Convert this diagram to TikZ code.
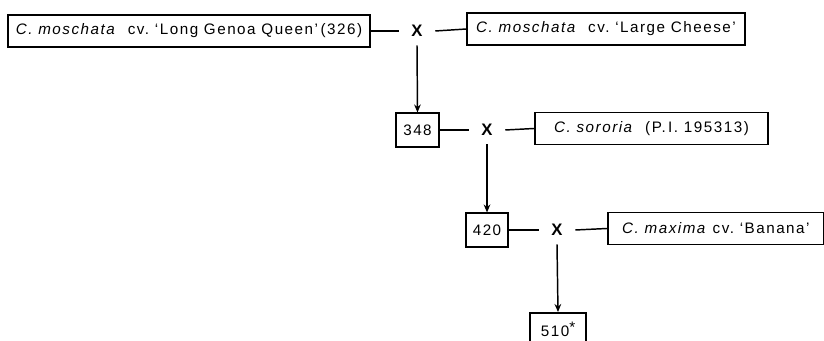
\documentclass[tikz,border=0pt]{standalone}
\usepackage{fontspec}
\setmainfont[LetterSpace=10]{Liberation Sans}
\usetikzlibrary{arrows.meta}
\tikzset{
  parent/.style = {draw, line width=1.3pt, inner xsep=3pt, inner ysep=0pt,
                   minimum height=24pt, font=\fontsize{11.4}{14}\selectfont},
  cross/.style  = {inner sep=0pt, minimum width=27pt, minimum height=21pt,
                   font=\fontsize{12.5}{14}\selectfont\bfseries},
  link/.style   = {line width=1.1pt},
  descent/.style = {line width=1.1pt, -{Stealth[length=6pt,width=5pt]}}
}
\newcommand{\species}[1]{\textit{#1}}
\begin{document}
\begin{tikzpicture}[x=0.75pt, y=-0.75pt]
  \useasboundingbox (0,0) rectangle (824,341);
  % first cross
  \node[parent, minimum width=271pt] (moschA) at (189,31) {\species{C. moschata}\ \ cv.\ `Long Genoa Queen'\,(326)};
  \node[cross] (x1) at (417,31) {X};
  \node[parent, minimum width=208pt] (moschB) at (606,29) {\species{C. moschata}\ \ cv.\ `Large Cheese'};
  \draw[link] (moschA.east) -- (x1.west);
  \draw[link] (x1.east) -- (moschB.west);

  % second cross
  \node[parent, minimum width=32pt, minimum height=25pt] (b348) at (417.5,130) {348};
  \node[cross] (x2) at (487,130) {X};
  \node[parent, minimum width=175pt] (sororia) at (651.5,128.5) {\species{C. sororia}\ \ (P.\,I.\ 195313)};
  \draw[descent] (x1.south) -- (b348.north);
  \draw[link] (b348.east) -- (x2.west);
  \draw[link] (x2.east) -- (sororia.west);

  % third cross
  \node[parent, minimum width=162pt, anchor=west] (banana) at (607,228.5) {\species{C. maxima}\ cv.\ `Banana'};
  \node[parent, minimum width=31pt, minimum height=25pt] (b420) at (487,230) {420};
  \node[cross] (x3) at (557,230) {X};
  \draw[descent] (x2.south) -- (b420.north);
  \draw[link] (b420.east) -- (x3.west);
  \draw[link] (x3.east) -- (banana.west);

  % hybrid
  \node[parent, minimum width=42pt, minimum height=25pt, anchor=north] (b510) at (558,312) {510\raisebox{0.5ex}{*}};
  \draw[descent] (x3.south) -- (b510.north);
\end{tikzpicture}
\end{document}
